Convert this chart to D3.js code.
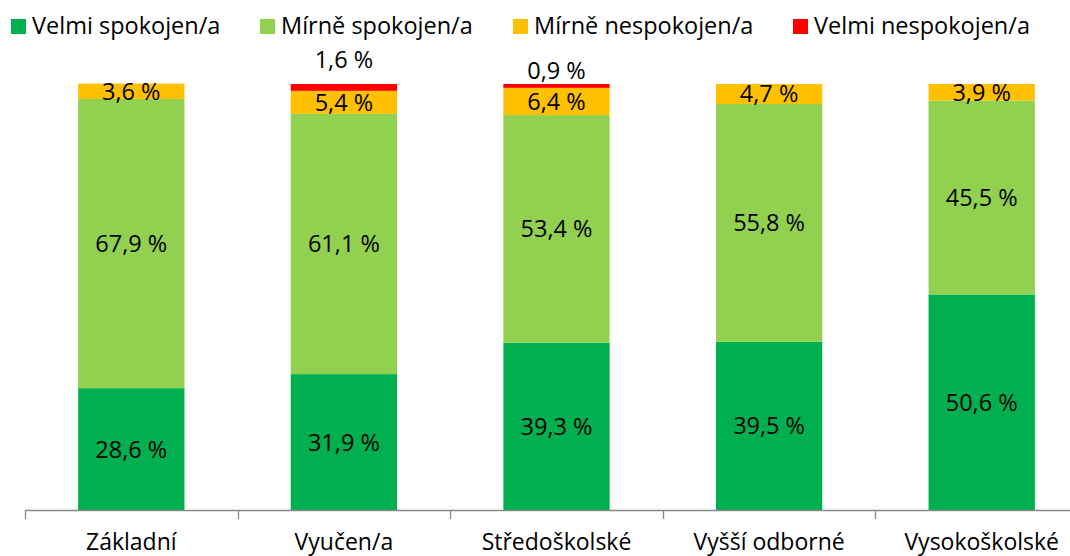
<!DOCTYPE html>
<html>
<head>
<meta charset="utf-8">
<script src="https://cdn.jsdelivr.net/npm/d3@7"></script>
<style>
  body { margin: 0; background: #fff; }
  svg { display: block; font-family: "Open Sans", sans-serif; }
</style>
</head>
<body>
<svg width="1070" height="556"></svg>
<script>
"use strict"

// categories (education level)
let categories = ["Základní", "Vyučen/a", "Středoškolské", "Vyšší odborné", "Vysokoškolské"]

// series names, bottom to top
let seriesNames = ["Velmi spokojen/a", "Mírně spokojen/a", "Mírně nespokojen/a", "Velmi nespokojen/a"]
let seriesColors = ["#00B050", "#92D050", "#FFC000", "#FF0000"]

// values in percent, one array per series
let velmiSpokojen = [28.6, 31.9, 39.3, 39.5, 50.6]
let mirneSpokojen = [67.9, 61.1, 53.4, 55.8, 45.5]
let mirneNespokojen = [3.6, 5.4, 6.4, 4.7, 3.9]
let velmiNespokojen = [0, 1.6, 0.9, 0, 0]

let yTicks = [0, 100]

/**
* @param {number} v percent value
* @return {string} label in czech format, e.g. "28,6 %"
*/
function fmt(v) {
    return d3.format(".1f")(v).replace(".", ",") + " %"
}

let series = [velmiSpokojen, mirneSpokojen, mirneNespokojen, velmiNespokojen]
let rows = categories.map((c, i) => {
    let row = {cat: c}
    seriesNames.forEach((s, j) => row[s] = series[j][i])
    return row
})
let stacked = d3.stack().keys(seriesNames)(rows)

let svg = d3.select("svg")

let x = d3.scaleBand()
    .domain(categories)
    .range([25, 1088])
    .paddingInner(0.5)
    .paddingOuter(0.25)

let y = d3.scaleLinear()
    .domain(d3.extent(yTicks))
    .range([510, 84])

let color = d3.scaleOrdinal().domain(seriesNames).range(seriesColors)

// bars
let layer = svg.append("g").selectAll("g")
    .data(stacked)
    .enter().append("g")
    .attr("fill", d => color(d.key))

layer.selectAll("rect")
    .data(d => d)
    .enter().append("rect")
    .attr("x", d => x(d.data.cat))
    .attr("y", d => y(d[1]))
    .attr("width", x.bandwidth())
    .attr("height", d => Math.max(0, y(d[0]) - y(d[1])))

// value labels; the thin red ones sit above the bar
let lift = {"Vyučen/a": 24, "Středoškolské": 13}
stacked.forEach(s => {
    s.forEach(d => {
        let v = d[1] - d[0]
        if (v <= 0) return
        let cx = x(d.data.cat) + x.bandwidth() / 2
        let cy = (y(d[0]) + y(d[1])) / 2
        if (s.key === "Velmi nespokojen/a")
            cy = y(d[1]) - lift[d.data.cat]
        svg.append("text")
            .attr("x", cx)
            .attr("y", cy)
            .attr("dy", "0.36em")
            .attr("text-anchor", "middle")
            .attr("font-size", 23.5)
            .attr("fill", "#000")
            .text(fmt(v))
    })
})

// x axis: line, ticks at band edges, labels centred
let step = x.step()
let axis = svg.append("g")
axis.append("line")
    .attr("x1", x(categories[0]) - step * 0.25)
    .attr("x2", 1070)
    .attr("y1", 510.5).attr("y2", 510.5)
    .attr("stroke", "#898989")
    .attr("stroke-width", 1.3)
axis.selectAll("line.tick")
    .data(categories)
    .enter().append("line")
    .attr("class", "tick")
    .attr("x1", d => Math.round(x(d) - step * 0.25) + 0.5)
    .attr("x2", d => Math.round(x(d) - step * 0.25) + 0.5)
    .attr("y1", 510).attr("y2", 519)
    .attr("stroke", "#898989")
    .attr("stroke-width", 1.3)
axis.selectAll("text")
    .data(categories)
    .enter().append("text")
    .attr("x", d => x(d) + x.bandwidth() / 2)
    .attr("y", 550)
    .attr("text-anchor", "middle")
    .attr("font-size", 23)
    .attr("fill", "#000")
    .text(d => d)

// legend
let legendX = [11, 260, 513, 793]
let legend = svg.append("g").selectAll("g")
    .data(seriesNames)
    .enter().append("g")
    .attr("transform", (d, i) => "translate(" + legendX[i] + ",19)")
legend.append("rect")
    .attr("width", 15).attr("height", 15)
    .attr("fill", d => color(d))
legend.append("text")
    .attr("x", 21)
    .attr("y", 15)
    .attr("font-size", 23.5)
    .attr("fill", "#000")
    .text(d => d)
</script>
</body>
</html>
